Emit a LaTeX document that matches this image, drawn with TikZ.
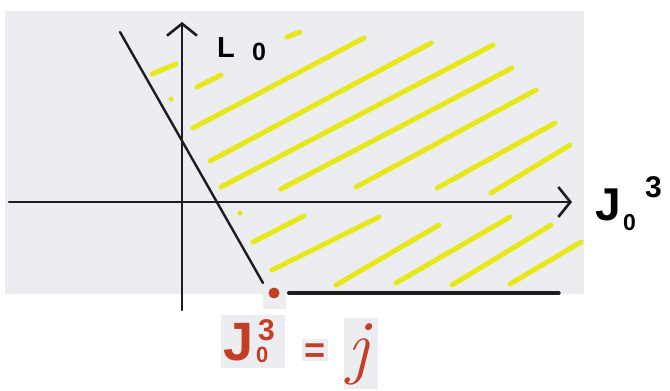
\documentclass[tikz,border=0pt]{standalone}
\usepackage{fontspec}
\setmainfont{Liberation Sans}
\newfontfamily\lmfont{Latin Modern Roman}
\usetikzlibrary{arrows.meta,positioning,calc}
\definecolor{paper}{RGB}{235,237,241}
\definecolor{hatchyellow}{RGB}{232,232,24}
\definecolor{inkred}{RGB}{196,62,38}
\definecolor{ink}{RGB}{28,28,34}

\begin{document}
\begin{tikzpicture}[x=1pt,y=-1pt,
  axis/.style={draw=ink,line width=2.6pt,line cap=round,-{Straight Barb[length=12pt,width=30pt]}},
  hatch/.style={draw=hatchyellow,line width=5pt,line cap=round},
  bound/.style={draw=ink,line width=2.4pt,line cap=round},
  axislabel/.style={inner sep=0pt,text=black,anchor=base west},
  redlabel/.style={inner sep=0pt,text=inkred,anchor=base west}]
  \useasboundingbox (0,0) rectangle (670,391);
  \fill[paper] (5,11) rectangle (584,294); % 紙の背景
  \fill[paper] (263,288) rectangle (286,309); % 点の下の背景
  \fill[paper] (221,315) rectangle (285,368); % 赤い式の背景
  \fill[paper] (302,339) rectangle (328,361);
  \fill[paper] (344,318) rectangle (378,389);
  \foreach \xa/\ya/\xb/\yb in {152/74/176/64, 197/87/221/75, 193/128/364/38, 287/37/300/32,
      210/161/431/43, 221/187/493/45, 281/189/512/68, 356/187/536/90, 437/188/555/123,
      491/193/570/145, 253/242/304/216, 272/270/379/217, 336/285/439/225, 396/283/510/217,
      452/285/551/225, 510/284/581/242}
    \draw[hatch] (\xa,\ya) -- (\xb,\yb); % 許される領域の斜線
  \fill[hatchyellow] (171,99) circle (2.5) (240,213) circle (2.5); % 斜線の小さな点
  \coordinate (ytail) at (182,310);
  \coordinate (ytip) at (182,22);
  \coordinate (xtail) at (9,202);
  \coordinate (xtip) at (572,202);
  \draw[axis] (ytail) -- (ytip); % 縦軸
  \draw[axis] (xtail) -- (xtip); % 横軸
  % 縦軸のラベル
  \node[axislabel,font=\fontsize{29}{29}\bfseries\selectfont] (lname) at (217,57) {L};
  \node[axislabel,font=\fontsize{25}{25}\bfseries\selectfont] (lsub) at (252,60) {0};
  % 横軸のラベル
  \node[axislabel,font=\fontsize{46}{46}\bfseries\selectfont] (jname) at (595,220) {J};
  \node[axislabel,font=\fontsize{23}{23}\bfseries\selectfont] (jsub) at (623,230) {0};
  \node[axislabel,font=\fontsize{30}{30}\bfseries\selectfont] (jsup) at (645,197) {3};
  \coordinate (slanttop) at (120,32);
  \coordinate (slantend) at (263,283);
  \draw[bound] (slanttop) -- (slantend); % 斜めの境界線
  \node[circle,fill=inkred,minimum size=11pt,inner sep=0pt] (jdot) at (274,293) {}; % 端点
  \coordinate (floorend) at (559,293);
  \draw[bound,line width=3.4pt] ([xshift=9pt]jdot.east) -- (floorend); % 下側の境界線
  % 端点の値
  \node[redlabel,font=\fontsize{54}{54}\bfseries\selectfont] (rname) at (223,360) {J};
  \node[redlabel,font=\fontsize{22}{22}\bfseries\selectfont] (rsub) at (256,362) {0};
  \node[redlabel,font=\fontsize{30}{30}\bfseries\selectfont] (rsup) at (258,340) {3};
  \node[redlabel,font=\fontsize{36}{36}\bfseries\selectfont] (req) at (304,362) {=};
  \node[redlabel,font=\fontsize{72}{72}\lmfont\itshape] (rval) at (347,370) {j};
\end{tikzpicture}
\end{document}
